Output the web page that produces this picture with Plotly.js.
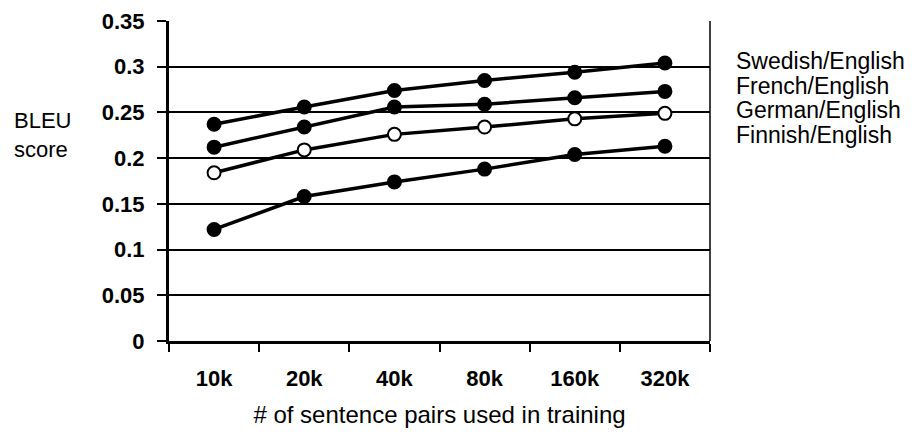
<!DOCTYPE html>
<html>
<head>
<meta charset="utf-8">
<script src="https://cdn.plot.ly/plotly-3.0.1.min.js"></script>
<style>html,body{margin:0;padding:0;background:#fff;}#chart{width:915px;height:439px;}</style>
</head>
<body>
<div id="chart"></div>
<script>
const categories = ["10k", "20k", "40k", "80k", "160k", "320k"];
const seriesNames = ["Swedish/English", "French/English", "German/English", "Finnish/English"];
const swedish = [0.237, 0.256, 0.274, 0.285, 0.294, 0.304];
const french  = [0.212, 0.234, 0.256, 0.259, 0.266, 0.273];
const german  = [0.184, 0.209, 0.226, 0.234, 0.243, 0.249];
const finnish = [0.122, 0.158, 0.174, 0.188, 0.204, 0.213];
const yTicks = [0, 0.05, 0.1, 0.15, 0.2, 0.25, 0.3, 0.35];
const yTickText = ["0", "0.05", "0.1", "0.15", "0.2", "0.25", "0.3", "0.35"];
const yTitleLines = ["BLEU", "score"];
const xTitle = "# of sentence pairs used in training";

const values = [swedish, french, german, finnish];
const openMarker = [false, false, true, false];
const FONT = "Liberation Sans, Arial, sans-serif";

const traces = values.map((v, i) => ({
  type: "scatter",
  mode: "lines+markers",
  x: categories,
  y: v,
  name: seriesNames[i],
  line: {color: "black", width: 3.5},
  marker: {
    size: 13,
    color: openMarker[i] ? "white" : "black",
    line: {color: "black", width: 2}
  },
  cliponaxis: false,
  showlegend: false
}));

const annotations = seriesNames.map((n, i) => ({
  xref: "paper", yref: "paper",
  x: 1, xshift: 24,
  y: 1, yshift: -40 - i * 24.6,
  xanchor: "left", yanchor: "middle",
  text: n, showarrow: false,
  font: {family: FONT, size: 23, color: "black"}
}));
annotations.push({
  xref: "paper", yref: "paper",
  x: 0, xshift: -157, y: 1, yshift: -114,
  xanchor: "left", yanchor: "middle", align: "left",
  text: yTitleLines.join("<br>"), showarrow: false,
  font: {family: FONT, size: 22, color: "black"}
});

const layout = {
  width: 915, height: 439,
  margin: {l: 169, r: 205, t: 21, b: 98, pad: 0},
  paper_bgcolor: "white", plot_bgcolor: "white",
  showlegend: false,
  xaxis: {
    type: "category",
    range: [-0.5, 5.5],
    tickson: "boundaries",
    ticks: "outside", ticklen: 8, tickwidth: 2, tickcolor: "black",
    showline: true, linecolor: "black", linewidth: 3,
    showgrid: false, zeroline: false,
    tickfont: {family: FONT, size: 22, weight: "bold", color: "black"},
    ticklabelstandoff: 16,
    title: {text: xTitle, standoff: 16, font: {family: FONT, size: 24, color: "black"}},
    fixedrange: true
  },
  yaxis: {
    range: [0, 0.35],
    tickvals: yTicks, ticktext: yTickText,
    ticks: "outside", ticklen: 9, tickwidth: 2, tickcolor: "black",
    showline: true, linecolor: "black", linewidth: 3,
    showgrid: true, gridcolor: "black", gridwidth: 2,
    zeroline: false,
    tickfont: {family: FONT, size: 22, weight: "bold", color: "black"},
    ticklabelstandoff: 8,
    fixedrange: true
  },
  shapes: [{
    type: "line", xref: "paper", yref: "paper",
    x0: 1, x1: 1, y0: 0, y1: 1,
    line: {color: "black", width: 1.5}
  }],
  annotations: annotations
};

Plotly.newPlot("chart", traces, layout, {displayModeBar: false, staticPlot: true});
</script>
</body>
</html>
